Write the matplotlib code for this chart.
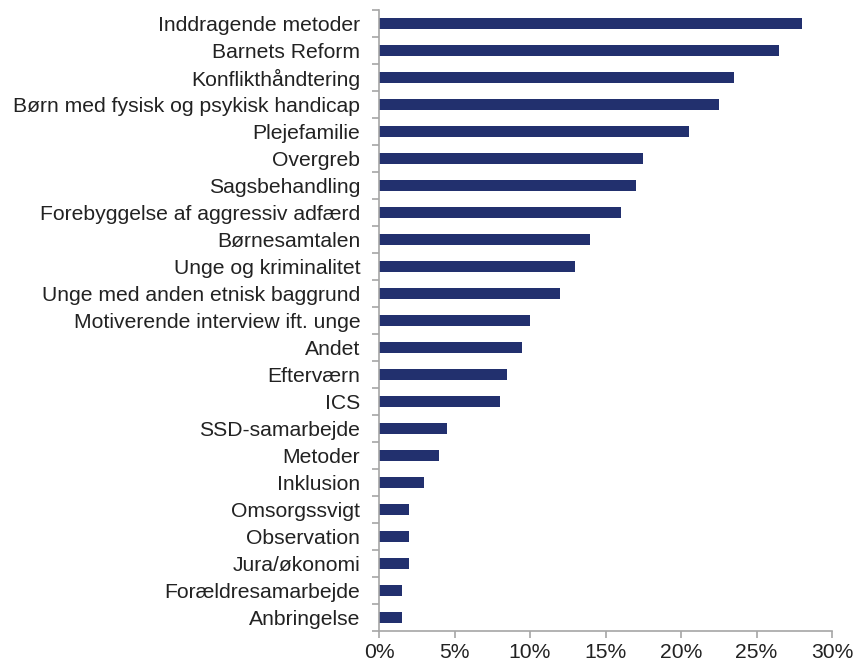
import matplotlib.pyplot as plt
from matplotlib.ticker import FuncFormatter, FixedLocator

categories = [
    "Inddragende metoder",
    "Barnets Reform",
    "Konflikthåndtering",
    "Børn med fysisk og psykisk handicap",
    "Plejefamilie",
    "Overgreb",
    "Sagsbehandling",
    "Forebyggelse af aggressiv adfærd",
    "Børnesamtalen",
    "Unge og kriminalitet",
    "Unge med anden etnisk baggrund",
    "Motiverende interview ift. unge",
    "Andet",
    "Efterværn",
    "ICS",
    "SSD-samarbejde",
    "Metoder",
    "Inklusion",
    "Omsorgssvigt",
    "Observation",
    "Jura/økonomi",
    "Forældresamarbejde",
    "Anbringelse",
]
values = [28.0, 26.5, 23.5, 22.5, 20.5, 17.5, 17.0, 16.0, 14.0, 13.0, 12.0, 10.0,
          9.5, 8.5, 8.0, 4.5, 4.0, 3.0, 2.0, 2.0, 2.0, 1.5, 1.5]
xticks = [0, 5, 10, 15, 20, 25, 30]

plt.rcParams['font.family'] = ['Liberation Sans', 'DejaVu Sans']

fig = plt.figure(figsize=(8.62, 6.66), dpi=100)
ax = fig.add_axes([0.4397, 0.053, 0.5255, 0.9315])

n = len(categories)
ypos = list(range(n))
ax.barh(ypos, values, height=0.42, color='#22306e')

ax.set_ylim(n - 0.5, -0.5)
ax.set_xlim(0, 30)

ax.set_yticks(ypos)
ax.set_yticklabels(categories, fontsize=15.2, color='#222222')
ax.tick_params(axis='y', which='major', length=0, pad=13.5)
ax.yaxis.set_minor_locator(FixedLocator([i - 0.5 for i in range(n + 1)]))
ax.tick_params(axis='y', which='minor', length=5, width=1.2, color='#a6a6a6')

ax.xaxis.set_major_locator(FixedLocator(xticks))
ax.xaxis.set_major_formatter(FuncFormatter(lambda v, p: f"{int(v)}%"))
ax.tick_params(axis='x', length=5, width=1.2, color='#a6a6a6', labelsize=15.2,
               labelcolor='#222222', pad=4)

for side in ['top', 'right']:
    ax.spines[side].set_visible(False)
for side in ['left', 'bottom']:
    ax.spines[side].set_color('#a6a6a6')
    ax.spines[side].set_linewidth(1.2)

plt.savefig('out.png', dpi=100)
